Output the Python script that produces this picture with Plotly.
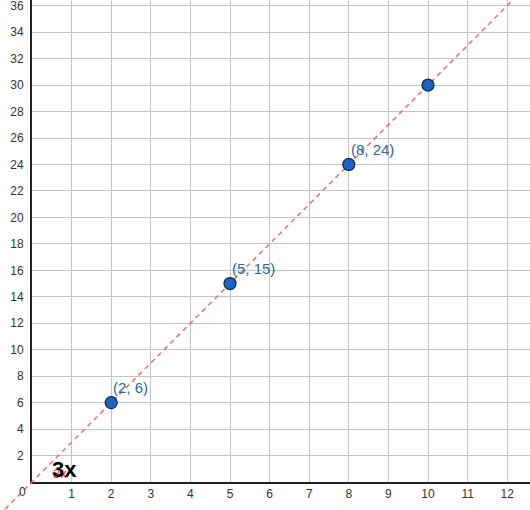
import plotly.graph_objects as go

# Data
point_x = [2, 5, 8, 10]
point_y = [6, 15, 24, 30]
point_labels = ["(2, 6)", "(5, 15)", "(8, 24)", ""]
line_slope = 3
line_label = "3x"
x_ticks = list(range(1, 13))
y_ticks = list(range(2, 37, 2))

W, H = 530, 510
L, B = 32, 28
x_max, y_max = 12.575, 36.43
x_min_full = -L / (W - L) * x_max
y_min_full = -B / (H - B) * y_max

fig = go.Figure()

# empty trace so the grid subplot (x/y) is drawn first
fig.add_trace(go.Scatter(x=[], y=[], mode="markers", showlegend=False,
                         xaxis="x", yaxis="y", hoverinfo="skip"))

# dashed line y = 3x on a full-canvas subplot (x2/y2) so it runs into the margins
lx = [x_min_full - 1, x_max + 1]
fig.add_trace(go.Scatter(
    x=lx, y=[line_slope * v for v in lx], mode="lines",
    line=dict(color="#f07070", width=1.5, dash="5px,4px"),
    xaxis="x2", yaxis="y2", hoverinfo="skip", showlegend=False))

fig.add_trace(go.Scatter(
    x=point_x, y=point_y, mode="markers",
    marker=dict(size=12, color="#1f63c0", line=dict(color="#142c48", width=1.3)),
    xaxis="x2", yaxis="y2", showlegend=False, cliponaxis=False))

for x, y, t in zip(point_x, point_y, point_labels):
    if t:
        fig.add_annotation(x=x, y=y, text=t, showarrow=False, xanchor="left",
                           yanchor="middle", xshift=0, yshift=15,
                           font=dict(family="Liberation Sans, Arial", size=15, color="#2a679c"))

fig.add_annotation(x=0.7, y=0.62, text=line_label, showarrow=False,
                   font=dict(family="Liberation Sans, Arial", size=13, color="#dd3333"))
fig.add_annotation(x=0.83, y=0.95, text="<b>" + line_label + "</b>", showarrow=False,
                   font=dict(family="Liberation Sans, Arial", size=22, color="#000000"))
fig.add_annotation(x=L / W, y=B / H, xref="paper", yref="paper", text="0", showarrow=False,
                   xanchor="center", yanchor="middle", xshift=-10, yshift=-10,
                   font=dict(family="Liberation Sans, Arial", size=12, color="#333333"))

tickfont = dict(family="Liberation Sans, Arial", size=12, color="#333333")
fig.update_layout(
    width=W, height=H, template="none",
    margin=dict(l=0, r=0, t=0, b=0),
    plot_bgcolor="rgba(0,0,0,0)", paper_bgcolor="white",
    xaxis=dict(domain=[L / W, 1], range=[0, x_max], tickvals=x_ticks,
               showgrid=True, gridcolor="#c4c4c4", gridwidth=1, zeroline=False,
               showline=True, linecolor="#222222", linewidth=2,
               ticks="", tickfont=tickfont, automargin=False, fixedrange=True,
               ticklabeloverflow="allow", anchor="y"),
    yaxis=dict(domain=[B / H, 1], range=[0, y_max], tickvals=y_ticks,
               showgrid=True, gridcolor="#c4c4c4", gridwidth=1, zeroline=False,
               showline=True, linecolor="#222222", linewidth=2,
               ticks="", tickfont=tickfont, ticklabelstandoff=4,
               automargin=False, fixedrange=True, ticklabeloverflow="allow",
               anchor="x"),
    xaxis2=dict(domain=[0, 1], range=[x_min_full, x_max], visible=False,
                anchor="y2", fixedrange=True),
    yaxis2=dict(domain=[0, 1], range=[y_min_full, y_max], visible=False,
                anchor="x2", fixedrange=True),
)

fig.write_html("out.html", config={"displayModeBar": False},
               post_script="document.body.style.margin='0';document.body.style.overflow='hidden';")
